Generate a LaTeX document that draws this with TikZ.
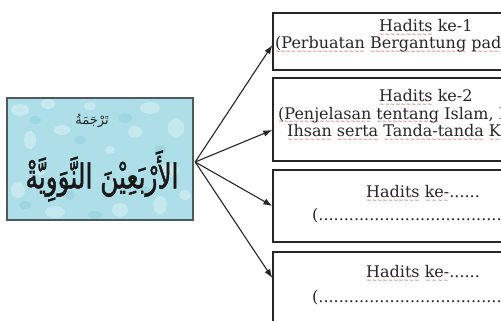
\documentclass[tikz,border=0pt]{standalone}
\usepackage{fontspec}
\usetikzlibrary{arrows.meta}
\setmainfont{DejaVu Serif}
\newfontfamily\arabicfont[Script=Arabic]{DejaVu Sans}
\newfontfamily\arabicbold[Script=Arabic,FakeBold=1.6]{DejaVu Sans}
\newfontfamily\squigfont{DejaVu Sans}
\TeXXeTstate=1
\definecolor{waterbg}{HTML}{AEDFE9}
\definecolor{waterdk}{HTML}{8FCFDD}
\definecolor{frame}{HTML}{4F5A5E}
\definecolor{squig}{HTML}{D03030}
\newsavebox{\sqwbox}
\newcommand\sqw[1]{\sbox{\sqwbox}{#1}\rlap{\raisebox{-5pt}{\hbox to \wd\sqwbox{\color{squig}\xleaders\hbox{\squigfont\fontsize{6}{6}\selectfont\char"223C}\hfil}}}\usebox{\sqwbox}}
\tikzset{
  hbox/.style={draw=black!85, line width=1.3pt, fill=white, minimum width=301pt, inner sep=0pt},
  ln/.style={anchor=base west, inner sep=0pt, text=black!85, font=\fontsize{16}{19}\selectfont},
  conn/.style={line width=1.1pt, draw=black!85, -{Latex[length=9pt,width=6.5pt]}},
  drop/.style={fill=white, fill opacity=0.3, draw=none},
  dropdk/.style={fill=waterdk, fill opacity=0.5, draw=none}
}
\begin{document}
\begin{tikzpicture}[x=1pt,y=-1pt]
\useasboundingbox (0,0) rectangle (501,321);
\clip (0,0) rectangle (501,321);
\fill[white] (0,0) rectangle (501,321);

% source box with water texture
\node[fill=waterbg, minimum width=186pt, minimum height=122pt, inner sep=0pt] (src) at (100,159) {};
\begin{scope}
  \clip (7,98) rectangle (193,220);
  \foreach \x/\y/\a/\b in {20/110/9/6, 48/104/7/5, 150/108/10/6, 176/128/8/10, 30/140/6/9, 62/130/8/5, 135/132/7/6, 170/170/9/7, 18/190/7/8, 55/212/10/6, 120/210/8/7, 160/205/7/9, 90/106/6/4, 110/150/5/4, 40/170/5/6, 185/195/6/5}
    \fill[drop] (\x,\y) ellipse ({\a pt} and {\b pt});
  \foreach \x/\y/\a/\b in {35/120/6/4, 125/118/7/5, 80/140/6/4, 160/150/6/5, 25/205/6/4, 95/215/7/4, 145/190/5/4, 70/195/5/5}
    \fill[dropdk] (\x,\y) ellipse ({\a pt} and {\b pt});
\end{scope}
\draw[frame, line width=1.8pt] (src.north west) rectangle (src.south east);
\node[inner sep=0pt, text=black!85] (tarj) at (92,121) {\arabicfont\fontsize{13}{15}\selectfont\beginR تَرْجَمَةُ\endR};
\node[inner sep=0pt, text=black!90] (title) at (102,176) {\resizebox{153pt}{38pt}{\arabicbold\fontsize{30}{36}\selectfont\beginR الأَرْبَعِيْنَ النَّوَوِيَّةْ\endR}};

% target boxes
\node[hbox, minimum height=57pt] (b1) at (423.5,41.5) {};
\node[hbox, minimum height=83pt] (b2) at (423.5,119.5) {};
\node[hbox, minimum height=72pt] (b3) at (423.5,206) {};
\node[hbox, minimum height=78pt] (b4) at (423.5,291) {};

% texts
\node[ln] (t1a) at (379,32) {\sqw{Hadits} ke-1};
\node[ln] (t1b) at (275,49) {\sqw{(Perbuatan} \sqw{Bergantung} \sqw{pada} \sqw{Niat)}};
\node[ln] (t2a) at (379,102) {\sqw{Hadits} ke-2};
\node[ln] (t2b) at (278,119) {\sqw{(Penjelasan} \sqw{tentang} Islam, Iman,};
\node[ln] (t2c) at (287,136) {\sqw{Ihsan} \sqw{serta} \sqw{Tanda-tanda} \sqw{Kiamat)}};
\node[ln] (t3a) at (366,197) {\sqw{Hadits} \sqw{ke-}......};
\node[ln] (t3b) at (312,220) {(............................................)};
\node[ln] (t4a) at (366,277) {\sqw{Hadits} \sqw{ke-}......};
\node[ln] (t4b) at (312,302) {(............................................)};

% connectors
\coordinate (hub) at ([shift={(2,3)}]src.east);
\draw[conn] (hub) -- ([yshift=-3.5pt]b1.west);
\draw[conn] (hub) -- ([yshift=-10.5pt]b2.west);
\draw[conn] (hub) -- (b3.west);
\draw[conn] (hub) -- ([yshift=13pt]b4.west);
\end{tikzpicture}
\end{document}
